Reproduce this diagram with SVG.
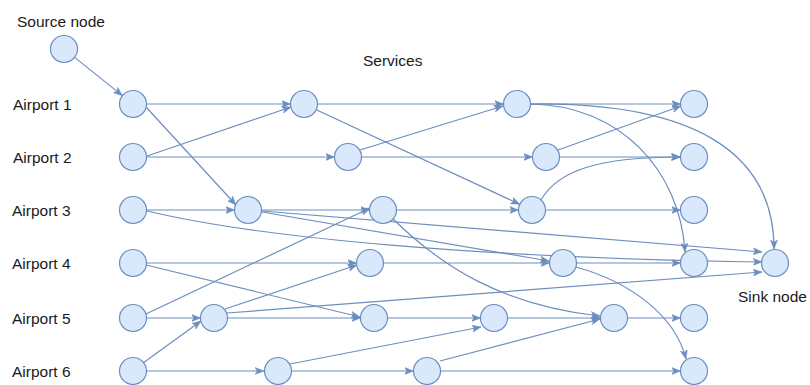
<svg xmlns="http://www.w3.org/2000/svg" width="810" height="385" viewBox="0 0 810 385">
  <style>
    .node { fill: #dae8fc; stroke: #6c8ebf; stroke-width: 1.2; }
    .edge { fill: none; stroke: #6c8ebf; stroke-width: 1.2; marker-end: url(#arrow); }
    .label { font-family: "Liberation Sans", Arial, Helvetica, sans-serif; font-size: 15.5px; fill: #1a1a1a; }
  </style>
  <defs>
    <marker id="arrow" viewBox="0 0 10 8" markerWidth="9" markerHeight="7.2" refX="10" refY="4" orient="auto" markerUnits="userSpaceOnUse">
      <path d="M0,0 L10,4 L0,8 L2.5,4 z" fill="#6c8ebf" stroke="#6c8ebf" stroke-width="0.5"/>
    </marker>
  </defs>

  <rect width="810" height="385" fill="#ffffff"/>

  <!-- labels -->
  <g id="labels">
    <text class="label" x="17" y="27">Source node</text>
    <text class="label" x="363" y="66">Services</text>
    <text class="label" x="13" y="110">Airport 1</text>
    <text class="label" x="13" y="163">Airport 2</text>
    <text class="label" x="12" y="216">Airport 3</text>
    <text class="label" x="12" y="269">Airport 4</text>
    <text class="label" x="12" y="324">Airport 5</text>
    <text class="label" x="12" y="377">Airport 6</text>
    <text class="label" x="738" y="302">Sink node</text>
  </g>

  <!-- connectors -->
  <g id="connectors">
    <!-- source -->
    <path class="edge" d="M74.6,57.4 L122.4,95.6"/>
    <!-- ground arcs, airport 1 -->
    <path class="edge" d="M146.5,104 L290.5,104"/>
    <path class="edge" d="M317.5,104 L503.5,104"/>
    <path class="edge" d="M530.5,104 L680.5,104"/>
    <!-- ground arcs, airport 2 -->
    <path class="edge" d="M146.5,157 L334.5,157"/>
    <path class="edge" d="M361.5,157 L532.5,157"/>
    <path class="edge" d="M559.5,157 L680.5,157"/>
    <!-- ground arcs, airport 3 -->
    <path class="edge" d="M146.5,210 L234.5,210"/>
    <path class="edge" d="M261.5,210 L369.5,210"/>
    <path class="edge" d="M396.5,210 L518.5,210"/>
    <path class="edge" d="M545.5,210 L680.5,210"/>
    <!-- ground arcs, airport 4 -->
    <path class="edge" d="M146.5,263 L356.5,263"/>
    <path class="edge" d="M383.5,263 L549.5,263"/>
    <path class="edge" d="M576.5,263 L680.5,263"/>
    <!-- ground arcs, airport 5 -->
    <path class="edge" d="M146.5,318 L200.5,318"/>
    <path class="edge" d="M227.5,318 L360.5,318"/>
    <path class="edge" d="M387.5,318 L480.5,318"/>
    <path class="edge" d="M507.5,318 L600.5,318"/>
    <path class="edge" d="M627.5,318 L680.5,318"/>
    <!-- ground arcs, airport 6 -->
    <path class="edge" d="M146.5,371 L264,371"/>
    <path class="edge" d="M291,371 L413.5,371"/>
    <path class="edge" d="M440.5,371 L680.5,371"/>

    <!-- service arcs -->
    <path class="edge" d="M146,107 L236,205"/>
    <path class="edge" d="M147,156 L291,107"/>
    <path class="edge" d="M316.2,109.7 L519.8,204.3"/>
    <path class="edge" d="M360,150 L503,106"/>
    <path class="edge" d="M558,150 L681,106"/>
    <path class="edge" d="M541,200 C558,170 600,157 680,157"/>
    <path class="edge" d="M530,104 C620,105 680,170 685,252"/>
    <path class="edge" d="M530,104 C690,102 774,150 774,249"/>
    <path class="edge" d="M147,211 C260,238 480,258 762,262"/>
    <path class="edge" d="M262,211 L762,252"/>
    <path class="edge" d="M262,212 L549,261"/>
    <path class="edge" d="M393,219 C440,265 500,305 600,316"/>
    <path class="edge" d="M146,265 L360,317"/>
    <path class="edge" d="M146,314 L370,208"/>
    <path class="edge" d="M225,309 L357,265"/>
    <path class="edge" d="M227,313 L762,272"/>
    <path class="edge" d="M143,363 L201,321"/>
    <path class="edge" d="M290,364 L481,327"/>
    <path class="edge" d="M440,361 L600,319"/>
    <path class="edge" d="M576,267 C630,282 675,315 686,359"/>
  </g>

  <!-- nodes -->
  <g id="source"><circle class="node" cx="64" cy="49" r="13.5"/></g>
  <g id="sink"><circle class="node" cx="775" cy="263" r="13.5"/></g>

  <g id="a1-0"><circle class="node" cx="133" cy="104" r="13.5"/></g>
  <g id="a1-1"><circle class="node" cx="304" cy="104" r="13.5"/></g>
  <g id="a1-2"><circle class="node" cx="517" cy="104" r="13.5"/></g>
  <g id="a1-3"><circle class="node" cx="694" cy="104" r="13.5"/></g>

  <g id="a2-0"><circle class="node" cx="133" cy="157" r="13.5"/></g>
  <g id="a2-1"><circle class="node" cx="348" cy="157" r="13.5"/></g>
  <g id="a2-2"><circle class="node" cx="546" cy="157" r="13.5"/></g>
  <g id="a2-3"><circle class="node" cx="694" cy="157" r="13.5"/></g>

  <g id="a3-0"><circle class="node" cx="133" cy="210" r="13.5"/></g>
  <g id="a3-1"><circle class="node" cx="248" cy="210" r="13.5"/></g>
  <g id="a3-2"><circle class="node" cx="383" cy="210" r="13.5"/></g>
  <g id="a3-3"><circle class="node" cx="532" cy="210" r="13.5"/></g>
  <g id="a3-4"><circle class="node" cx="694" cy="210" r="13.5"/></g>

  <g id="a4-0"><circle class="node" cx="133" cy="263" r="13.5"/></g>
  <g id="a4-1"><circle class="node" cx="370" cy="263" r="13.5"/></g>
  <g id="a4-2"><circle class="node" cx="563" cy="263" r="13.5"/></g>
  <g id="a4-3"><circle class="node" cx="694" cy="263" r="13.5"/></g>

  <g id="a5-0"><circle class="node" cx="133" cy="318" r="13.5"/></g>
  <g id="a5-1"><circle class="node" cx="214" cy="318" r="13.5"/></g>
  <g id="a5-2"><circle class="node" cx="374" cy="318" r="13.5"/></g>
  <g id="a5-3"><circle class="node" cx="494" cy="318" r="13.5"/></g>
  <g id="a5-4"><circle class="node" cx="614" cy="318" r="13.5"/></g>
  <g id="a5-5"><circle class="node" cx="694" cy="318" r="13.5"/></g>

  <g id="a6-0"><circle class="node" cx="133" cy="371" r="13.5"/></g>
  <g id="a6-1"><circle class="node" cx="278" cy="371" r="13.5"/></g>
  <g id="a6-2"><circle class="node" cx="427" cy="371" r="13.5"/></g>
  <g id="a6-3"><circle class="node" cx="694" cy="371" r="13.5"/></g>
</svg>
